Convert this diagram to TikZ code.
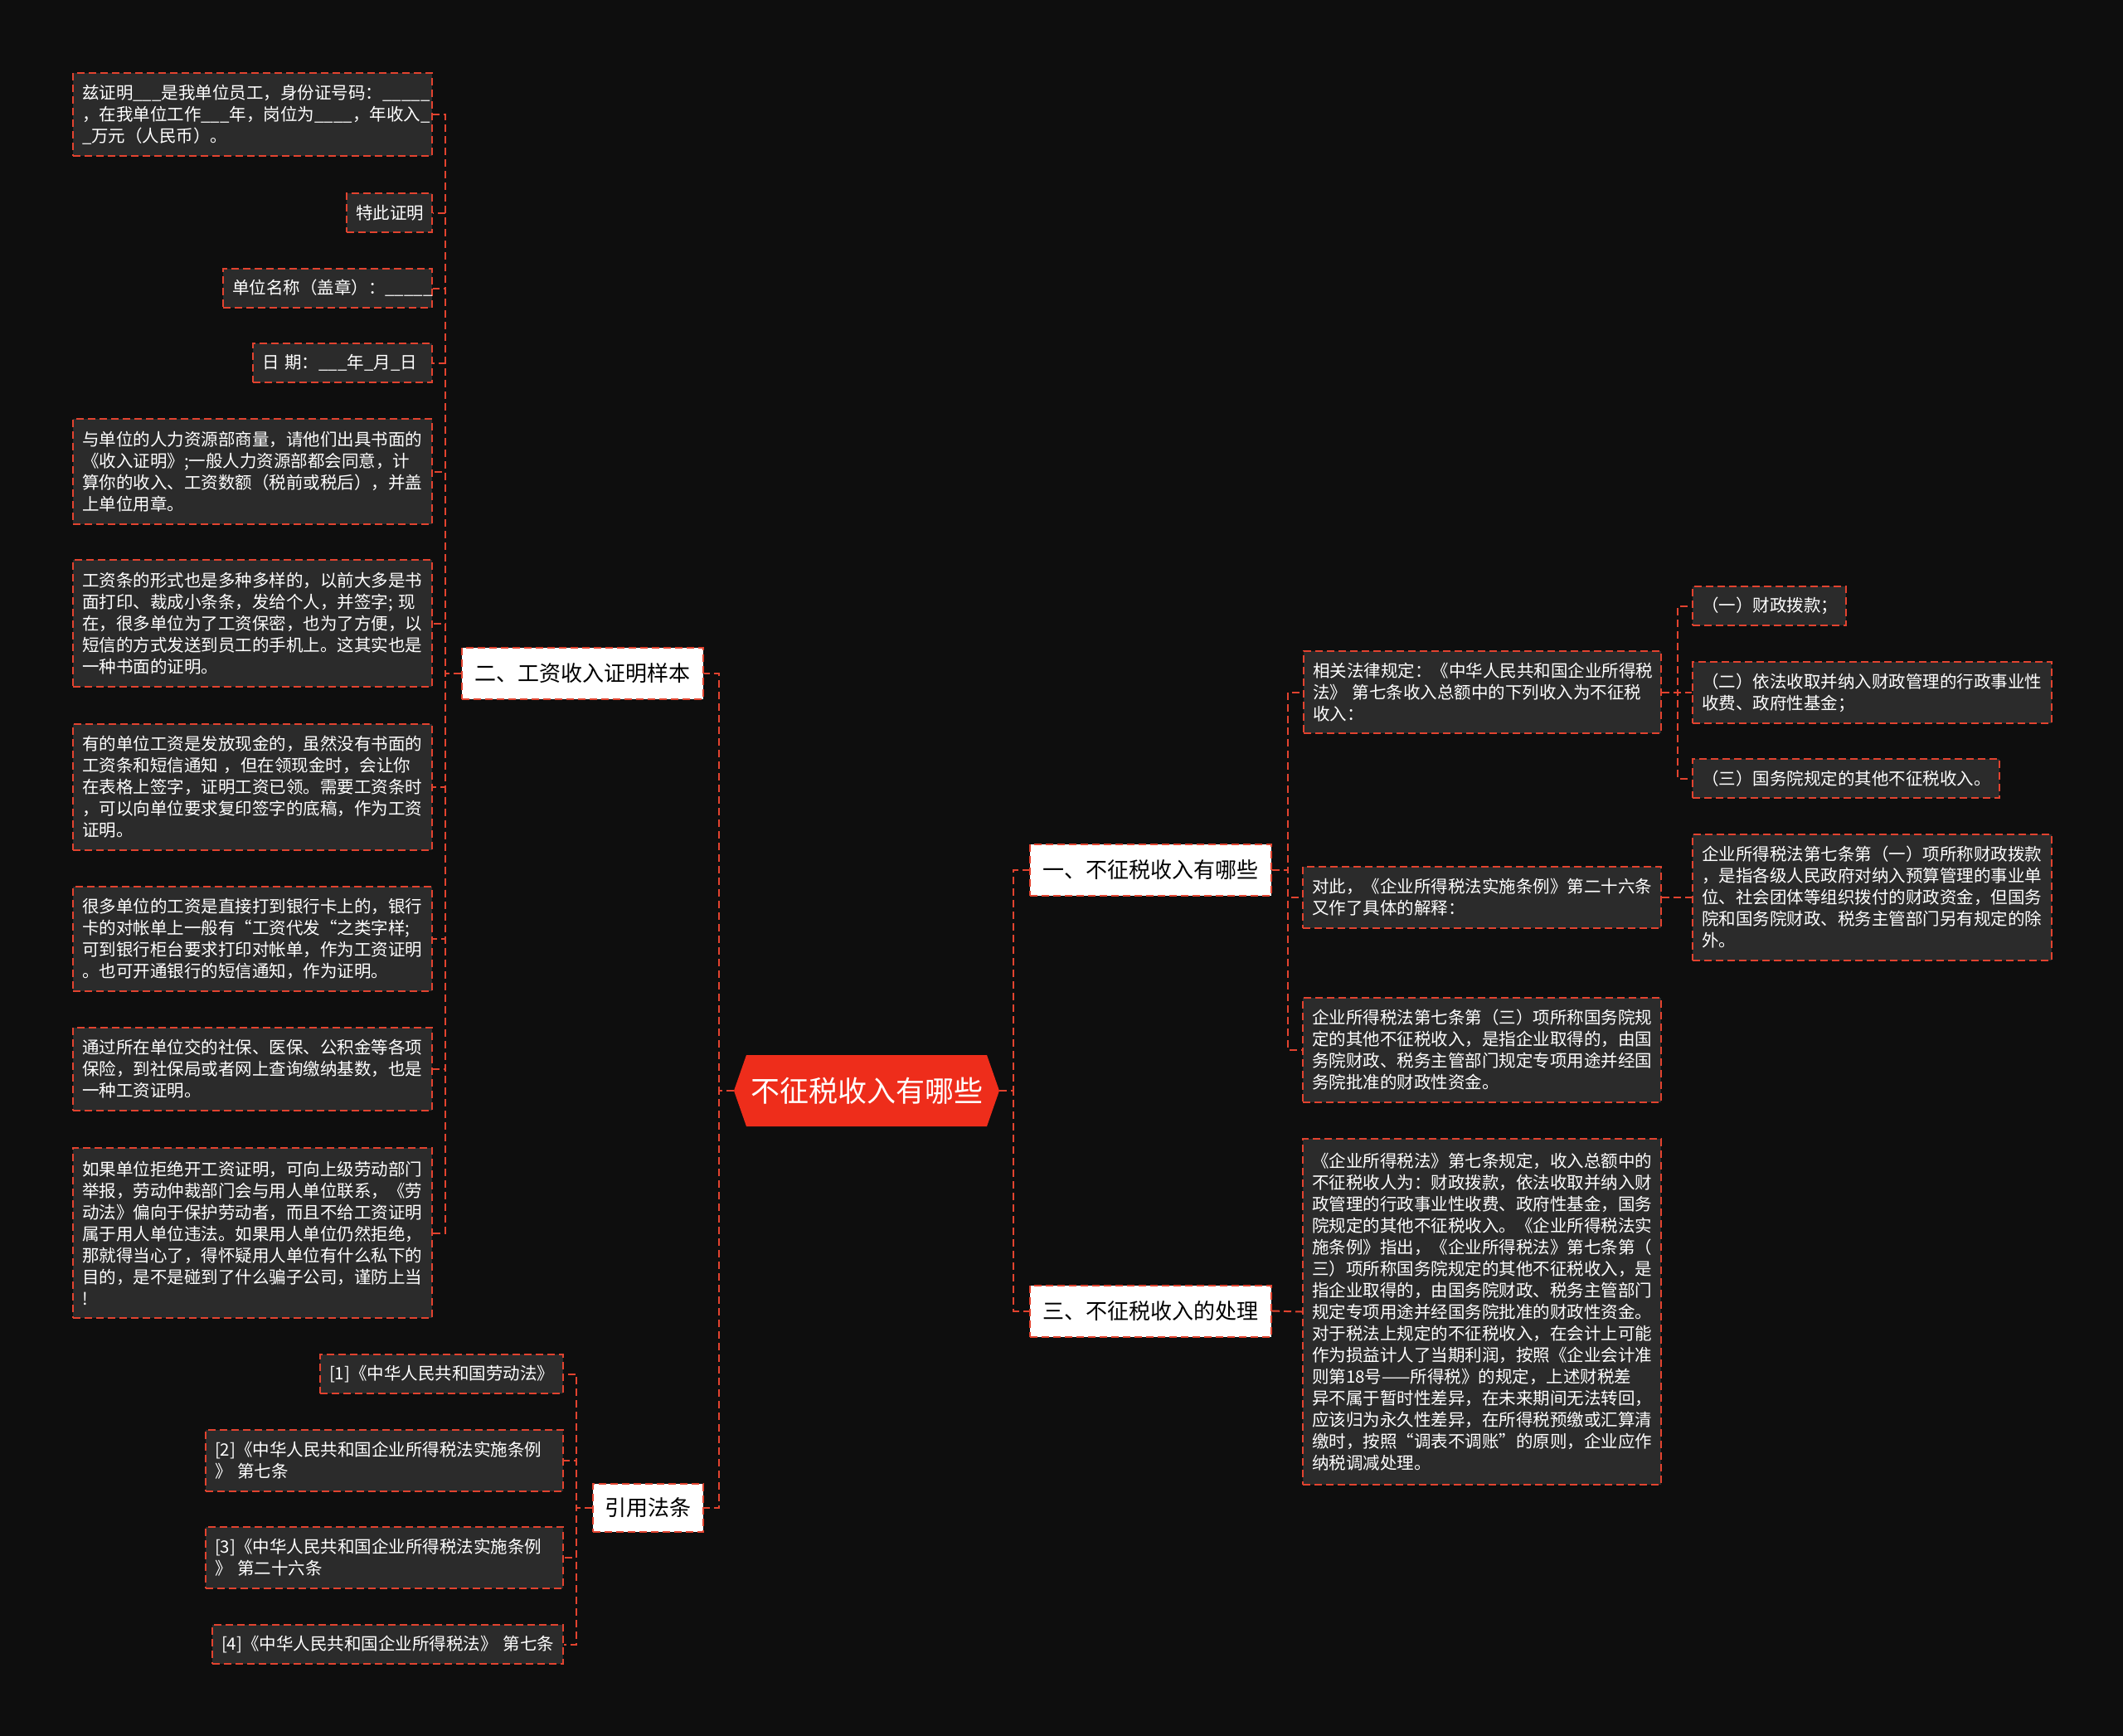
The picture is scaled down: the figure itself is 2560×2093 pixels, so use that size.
\documentclass[tikz,border=0pt]{standalone}
\usepackage{fontspec}
\newfontfamily\cjk{Noto Sans CJK SC}
\definecolor{bgc}{HTML}{0E0E0E}
\definecolor{leafc}{HTML}{2B2B2B}
\definecolor{dred}{HTML}{E2432F}
\definecolor{cred}{HTML}{EE2D1B}
\tikzset{
  dashline/.style={draw=dred, line width=1pt, dash pattern=on 4.5pt off 2.5pt},
  leaf/.style={dashline, fill=leafc, text=white, font=\cjk\fontsize{10.25}{13}\selectfont,
    align=left, inner xsep=5.5pt, inner ysep=2pt, anchor=north west},
  branch/.style={dashline, fill=white, text=black, font=\cjk\fontsize{13}{16}\selectfont,
    inner sep=0pt, anchor=center, minimum width=145.5pt, minimum height=31pt},
  conn/.style={dashline},
  rootnode/.style={text=white, font=\cjk\fontsize{17.5}{20}\selectfont, inner sep=0pt,
    minimum width=160pt, minimum height=43pt,
    path picture={\fill[cred] ([xshift=7.5pt]path picture bounding box.north west)
      -- ([xshift=-7.5pt]path picture bounding box.north east)
      -- (path picture bounding box.east)
      -- ([xshift=-7.5pt]path picture bounding box.south east)
      -- ([xshift=7.5pt]path picture bounding box.south west)
      -- (path picture bounding box.west) -- cycle;}}
}
\begin{document}
\begin{tikzpicture}[x=0.5pt,y=-0.5pt]
\useasboundingbox (0,0) rectangle (2560,2093);
\fill[bgc] (0,0) rectangle (2560,2093);

% root
\node[rootnode] (C) at (1045,1315) {不征税收入有哪些};

% branches
\node[branch] (B1) at (1387.5,1049) {一、不征税收入有哪些};
\node[branch] (B3) at (1387.5,1580.5) {三、不征税收入的处理};
\node[branch] (B2) at (702.5,811.5) {二、工资收入证明样本};
\node[branch, minimum width=66.5pt, minimum height=29pt] (B4) at (781.5,1818) {引用法条};

% left leaves
\node[leaf, text width=205.5pt, minimum height=50pt] (L1) at (87,87) {兹证明\_\_\_是我单位员工，身份证号码：\_\_\_\_\_\\，在我单位工作\_\_\_年，岗位为\_\_\_\_，年收入\_\\\_万元（人民币）。};
\node[leaf, text width=40.5pt, minimum height=23.5pt] (L2) at (417,232) {特此证明};
\node[leaf, text width=115pt, minimum height=23.5pt] (L3) at (268,323) {单位名称（盖章）：\_\_\_\_\_};
\node[leaf, text width=97pt, minimum height=23.5pt] (L4) at (304,413) {日~期：\_\_\_年\_月\_日};
\node[leaf, text width=205.5pt, minimum height=63.5pt] (L5) at (87,504) {与单位的人力资源部商量，请他们出具书面的\\《收入证明》;一般人力资源部都会同意，计\\算你的收入、工资数额（税前或税后），并盖\\上单位用章。};
\node[leaf, text width=205.5pt, minimum height=76.5pt] (L6) at (87,674) {工资条的形式也是多种多样的，以前大多是书\\面打印、裁成小条条，发给个人，并签字;~现\\在，很多单位为了工资保密，也为了方便，以\\短信的方式发送到员工的手机上。这其实也是\\一种书面的证明。};
\node[leaf, text width=205.5pt, minimum height=76pt] (L7) at (87,872) {有的单位工资是发放现金的，虽然没有书面的\\工资条和短信通知~，但在领现金时，会让你\\在表格上签字，证明工资已领。需要工资条时\\，可以向单位要求复印签字的底稿，作为工资\\证明。};
\node[leaf, text width=205.5pt, minimum height=63pt] (L8) at (87,1068) {很多单位的工资是直接打到银行卡上的，银行\\卡的对帐单上一般有“工资代发“之类字样;\\可到银行柜台要求打印对帐单，作为工资证明\\。也可开通银行的短信通知，作为证明。};
\node[leaf, text width=205.5pt, minimum height=50pt] (L9) at (87,1238) {通过所在单位交的社保、医保、公积金等各项\\保险，到社保局或者网上查询缴纳基数，也是\\一种工资证明。};
\node[leaf, text width=205.5pt, minimum height=102.5pt] (L10) at (87,1383) {如果单位拒绝开工资证明，可向上级劳动部门\\举报，劳动仲裁部门会与用人单位联系，《劳\\动法》偏向于保护劳动者，而且不给工资证明\\属于用人单位违法。如果用人单位仍然拒绝，\\那就得当心了，得怀疑用人单位有什么私下的\\目的，是不是碰到了什么骗子公司，谨防上当\\!};

% references
\node[leaf, text width=135.5pt, minimum height=23.5pt] (F1) at (385,1632) {[1]《中华人民共和国劳动法》};
\node[leaf, text width=204.5pt, minimum height=37pt] (F2) at (247,1723) {[2]《中华人民共和国企业所得税法实施条例\\》~第七条};
\node[leaf, text width=204.5pt, minimum height=37pt] (F3) at (247,1840) {[3]《中华人民共和国企业所得税法实施条例\\》~第二十六条};
\node[leaf, text width=200.5pt, minimum height=23.5pt] (F4) at (255,1958) {[4]《中华人民共和国企业所得税法》~第七条};

% right leaves
\node[leaf, text width=204.5pt, minimum height=49.5pt] (R1) at (1571,784) {相关法律规定：《中华人民共和国企业所得税\\法》~第七条收入总额中的下列收入为不征税\\收入：};
\node[leaf, text width=81.5pt, minimum height=23.5pt] (R1a) at (2040,706) {（一）财政拨款；};
\node[leaf, text width=205.5pt, minimum height=37pt] (R1b) at (2040,797) {（二）依法收取并纳入财政管理的行政事业性\\收费、政府性基金；};
\node[leaf, text width=174pt, minimum height=23.5pt] (R1c) at (2040,914) {（三）国务院规定的其他不征税收入。};
\node[leaf, text width=205pt, minimum height=37pt] (R2) at (1570,1044) {对此，《企业所得税法实施条例》第二十六条\\又作了具体的解释：};
\node[leaf, text width=205.5pt, minimum height=76pt] (R2a) at (2040,1005) {企业所得税法第七条第（一）项所称财政拨款\\，是指各级人民政府对纳入预算管理的事业单\\位、社会团体等组织拨付的财政资金，但国务\\院和国务院财政、税务主管部门另有规定的除\\外。};
\node[leaf, text width=205pt, minimum height=63pt] (R3) at (1570,1202) {企业所得税法第七条第（三）项所称国务院规\\定的其他不征税收入，是指企业取得的，由国\\务院财政、税务主管部门规定专项用途并经国\\务院批准的财政性资金。};
\node[leaf, text width=205pt, minimum height=208.5pt] (R4) at (1570,1372) {《企业所得税法》第七条规定，收入总额中的\\不征税收人为：财政拨款，依法收取并纳入财\\政管理的行政事业性收费、政府性基金，国务\\院规定的其他不征税收入。《企业所得税法实\\施条例》指出，《企业所得税法》第七条第（\\三）项所称国务院规定的其他不征税收入，是\\指企业取得的，由国务院财政、税务主管部门\\规定专项用途并经国务院批准的财政性资金。\\对于税法上规定的不征税收入，在会计上可能\\作为损益计人了当期利润，按照《企业会计准\\则第18号——所得税》的规定，上述财税差\\异不属于暂时性差异，在未来期间无法转回，\\应该归为永久性差异，在所得税预缴或汇算清\\缴时，按照“调表不调账”的原则，企业应作\\纳税调减处理。};

% connectors
\foreach \b in {B2,B4} {\draw[conn] (C.west) -- ++(-18,0) |- (\b.east);}
\foreach \b in {B1,B3} {\draw[conn] (C.east) -- ++(17,0) |- (\b.west);}
\foreach \l in {L1,L2,L3,L4,L5,L6,L7,L8,L9,L10} {\draw[conn] (B2.west) -- ++(-19,0) |- (\l.east);}
\foreach \l in {F1,F2,F3,F4} {\draw[conn] (B4.west) -- ++(-19,0) |- (\l.east);}
\foreach \l in {R1,R2,R3} {\draw[conn] (B1.east) -- ++(19,0) |- (\l.west);}
\foreach \l in {R1a,R1b,R1c} {\draw[conn] (R1.east) -- ++(19,0) |- (\l.west);}
\draw[conn] (R2.east) -- (R2a.west);
\draw[conn] (B3.east) -- (R4.west);
\end{tikzpicture}
\end{document}
